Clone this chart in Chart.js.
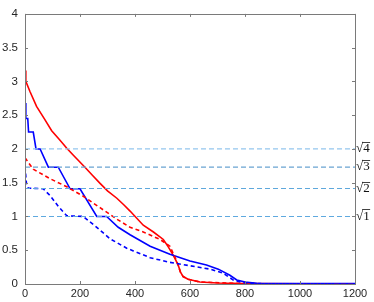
<!DOCTYPE html>
<html><head><meta charset="utf-8">
<script src="https://cdn.jsdelivr.net/npm/chart.js@4"></script>
<style>
html,body{margin:0;padding:0;background:#fff;overflow:hidden}
#wrap{position:absolute;left:-3px;top:0;width:377px;height:302px}
</style></head><body>
<div id="wrap"><canvas id="c" width="377" height="302"></canvas></div>
<script>
// ---- data ----
const redSolidX = [0,3,18,42,70,97,125,152,175,218,245,273,300,334,360,382,430,467,503,521,534,545,557,565,575,593,636,700,800,1200];
const redSolidY = [3.16,3.0,2.85,2.63,2.45,2.27,2.14,2.01,1.91,1.73,1.61,1.49,1.38,1.27,1.17,1.08,0.87,0.77,0.66,0.55,0.46,0.38,0.28,0.18,0.11,0.07,0.03,0.015,0.005,0];
const blueSolidX = [0,3,10,13,30,40,55,85,121,164,200,261,297,339,382,455,527,600,660,703,745,770,800,843,1200];
const blueSolidY = [2.68,2.45,2.45,2.25,2.25,2.0,2.0,1.73,1.73,1.41,1.41,1.0,1.0,0.84,0.73,0.56,0.44,0.34,0.28,0.22,0.13,0.06,0.03,0.01,0.005];
const redDashX = [0,30,91,152,212,273,334,382,430,491,527,545,557,565,575,593,636,800,1200];
const redDashY = [1.87,1.70,1.56,1.44,1.30,1.13,0.96,0.84,0.77,0.66,0.56,0.40,0.28,0.18,0.11,0.07,0.03,0.005,0];
const blueDashX = [0,5,12,66,91,121,152,212,261,309,370,394,455,527,600,673,721,757,790,850,1200];
const blueDashY = [1.74,1.5,1.42,1.41,1.31,1.15,1.01,1.0,0.84,0.67,0.53,0.49,0.39,0.32,0.27,0.22,0.16,0.06,0.02,0.005,0];
const refN = [1,2,3,4];
const refValues = refN.map(n => Math.sqrt(n));
const xTicks = [0,200,400,600,800,1000,1200];
const yTicks = [0,0.5,1,1.5,2,2.5,3,3.5,4];
const refColors = ['#5fa9df','#5ea8dc','#6aa4d2','#94c6ee'];

const pts = (xs, ys) => xs.map((x,i)=>({x, y: ys[i]}));

const datasets = [];
refValues.forEach((v,i)=>{
  datasets.push({data:[{x:0,y:v},{x:1200,y:v}], borderColor:refColors[i], backgroundColor:refColors[i], borderWidth:1.2, borderDash:[5,3], pointRadius:0});
});
datasets.push({data:pts(blueDashX,blueDashY), borderColor:'#0000ff', borderWidth:1.6, borderDash:[4,3], pointRadius:0});
datasets.push({data:pts(redDashX,redDashY), borderColor:'#ff0000', borderWidth:1.6, borderDash:[4,3], pointRadius:0});
datasets.push({data:pts(blueSolidX,blueSolidY), borderColor:'#0000ff', borderWidth:1.6, pointRadius:0});
datasets.push({data:pts(redSolidX,redSolidY), borderColor:'#ff0000', borderWidth:1.6, pointRadius:0});

const RFONT = '13px "Liberation Serif"';
const boxPlugin = {
  id:'box',
  afterDatasetsDraw(chart){
    const {ctx, chartArea:a, scales} = chart;
    ctx.save();
    ctx.setLineDash([]);
    ctx.strokeStyle = '#7a7a7a';
    ctx.lineWidth = 1;
    ctx.strokeRect(Math.round(a.left)+0.5, Math.round(a.top)+0.5, Math.round(a.right-a.left), Math.round(a.bottom-a.top));
    const L = 3;
    ctx.beginPath();
    xTicks.forEach(t=>{
      const px = Math.round(scales.x.getPixelForValue(t))+0.5;
      ctx.moveTo(px, a.bottom); ctx.lineTo(px, a.bottom-L);
      ctx.moveTo(px, a.top); ctx.lineTo(px, a.top+L);
    });
    yTicks.forEach(t=>{
      const py = Math.round(scales.y.getPixelForValue(t))+0.5;
      ctx.moveTo(a.left, py); ctx.lineTo(a.left+L, py);
      ctx.moveTo(a.right, py); ctx.lineTo(a.right-L, py);
    });
    ctx.stroke();
    ctx.restore();
  },
  afterDraw(chart){
    // vinculum over the radicand of the right-hand labels
    const {ctx} = chart; const s = chart.scales.yR;
    ctx.save();
    ctx.font = RFONT;
    ctx.strokeStyle = '#111'; ctx.lineWidth = 0.8;
    const x0 = s.left + 1;
    const wr = ctx.measureText('\u221A').width;
    refValues.forEach((v,i)=>{
      const py = s.getPixelForValue(v);
      const wd = ctx.measureText(String(refN[i])).width;
      const yy = Math.round(py - 7) + 0.5;
      ctx.beginPath();
      ctx.moveTo(x0 + wr - 1, yy); ctx.lineTo(x0 + wr + wd + 0.5, yy);
      ctx.stroke();
    });
    ctx.restore();
  }
};

new Chart(document.getElementById('c'), {
  type:'line',
  data:{datasets},
  options:{
    responsive:false, animation:false,
    layout:{padding:{top:3,left:0,right:0,bottom:0}},
    plugins:{legend:{display:false}, tooltip:{enabled:false}},
    scales:{
      x:{type:'linear', min:0, max:1200,
        afterBuildTicks(s){ s.ticks = xTicks.map(v=>({value:v})); },
        grid:{display:false, drawTicks:false}, border:{display:false},
        ticks:{color:'#262626', font:{family:'Liberation Sans', size:11}, padding:3, maxRotation:0,
          callback:v=>String(v)},
        afterFit(s){ s.height = 18; }
      },
      y:{type:'linear', min:0, max:4,
        afterBuildTicks(s){ s.ticks = yTicks.map(v=>({value:v})); },
        grid:{display:false, drawTicks:false}, border:{display:false},
        ticks:{color:'#262626', font:{family:'Liberation Sans', size:11.5}, padding:7,
          callback:v=>String(v)},
        afterFit(s){ s.width = 28; }
      },
      yR:{type:'linear', position:'right', min:0, max:4,
        afterBuildTicks(s){ s.ticks = refValues.map(v=>({value:v})); },
        grid:{display:false, drawTicks:false}, border:{display:false},
        ticks:{color:'#111', font:{family:'Liberation Serif', size:13}, padding:1,
          callback:(v,i)=>'\u221A' + refN[i]},
        afterFit(s){ s.width = 19; }
      }
    }
  },
  plugins:[boxPlugin]
});
</script>
</body></html>
